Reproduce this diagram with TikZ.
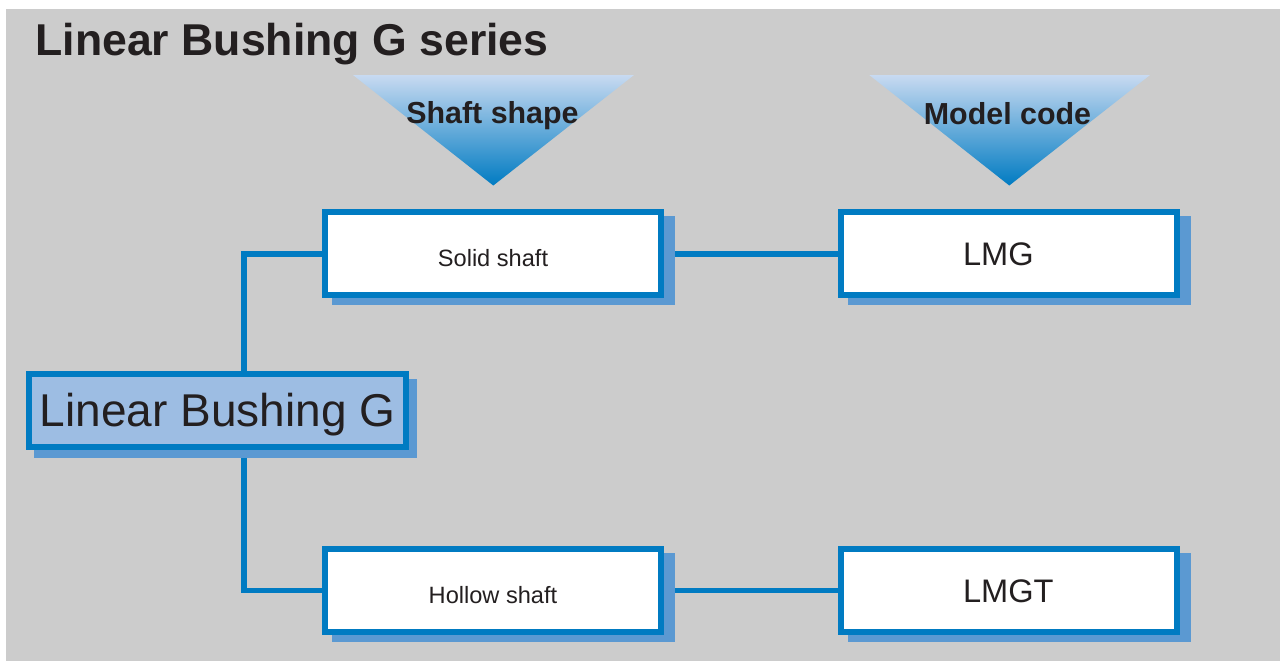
\documentclass[tikz,border=0pt]{standalone}
\usepackage{fontspec}
\setmainfont{Liberation Sans}
\usetikzlibrary{positioning, shadows, backgrounds}
\definecolor{bggray}{HTML}{CCCCCC}
\definecolor{lmblue}{HTML}{007BC2}
\definecolor{shadeblue}{HTML}{5B99D2}
\definecolor{rootfill}{HTML}{9DBDE3}
\definecolor{topblue}{HTML}{C8DAF1}
\definecolor{inkblack}{HTML}{231F20}
\tikzset{boxbase/.style={rectangle,draw=lmblue,fill=white,line width=3pt,inner sep=0pt,text=inkblack},shaftbox/.style={boxbase,minimum width=168.3pt,minimum height=41.5pt,font=\fontsize{11.8}{14}\selectfont,text height=12.85pt,text depth=0pt,drop shadow={shadow xshift=5.25pt,shadow yshift=-3.5pt,fill=shadeblue,draw=shadeblue,line width=3pt,opacity=1}},codebox/.style={shaftbox,font=\fontsize{16.3}{19}\selectfont,text width=46pt,align=left,text height=11.7pt},rootbox/.style={boxbase,fill=rootfill,minimum width=188.65pt,minimum height=36.65pt,font=\fontsize{23}{27}\selectfont,text height=16.5pt,text depth=0pt,drop shadow={shadow xshift=4pt,shadow yshift=-4pt,fill=shadeblue,draw=shadeblue,line width=3pt,opacity=1}},header/.style={text=inkblack,font=\bfseries\fontsize{15.2}{18}\selectfont,inner sep=0pt,anchor=base},title/.style={text=inkblack,font=\bfseries\fontsize{22.3}{26}\selectfont,inner sep=0pt,anchor=base west},link/.style={draw=lmblue,line width=2.85pt}}

\begin{document}
\begin{tikzpicture}[x=0.5pt,y=-0.5pt,node distance=123.85pt and 86.7pt]
\useasboundingbox (0,0) rectangle (1280,661);
\node[title] (title) at (35,55) {Linear Bushing G series};
% header triangles
\shade[top color=topblue,bottom color=lmblue] (353,75) -- (634,75) -- (493.3,185.5) -- cycle;
\shade[top color=topblue,bottom color=lmblue] (869.3,75) -- (1150,75) -- (1009.3,185.5) -- cycle;
\node[header] (shapehead) at (492.5,123.3) {Shaft shape};
\node[header] (codehead) at (1007.5,124) {Model code};
% boxes
\node[shaftbox] (solid) at (493,253.8) {Solid shaft};
\node[codebox, right=of solid] (lmg) {LMG};
\node[shaftbox, below=of solid] (hollow) {Hollow shaft};
\node[codebox, right=of hollow] (lmgt) {LMGT};
\node[rootbox] (root) at (217.7,410.3) {Linear Bushing G};
\coordinate (trunk) at (244,410);
\begin{scope}[on background layer]
\fill[bggray] (6,9) rectangle (1280,661);
\draw[link] (solid.west) -| (trunk |- root.north);
\draw[link] (hollow.west) -| (trunk |- root.south);
\draw[link] (solid) -- (lmg);
\draw[link] (hollow) -- (lmgt);
\end{scope}
\end{tikzpicture}
\end{document}
